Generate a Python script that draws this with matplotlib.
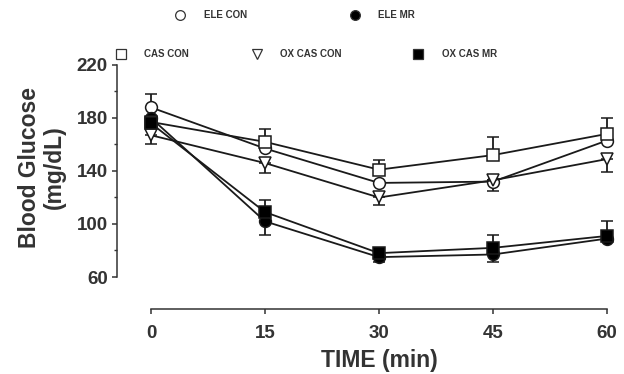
import matplotlib.pyplot as plt
from matplotlib.lines import Line2D
import numpy as np

plt.rcParams['font.family'] = ['Liberation Sans', 'DejaVu Sans']

time = np.array([0, 15, 30, 45, 60])

ele_con = [188, 157, 131, 132, 163]
ele_con_lo = [0, 0, 0, 7, 0]
ele_con_hi = [10, 0, 0, 0, 0]

ele_mr = [180, 102, 75, 77, 89]
ele_mr_lo = [0, 10, 4, 6, 0]
ele_mr_hi = [0, 0, 0, 0, 0]

cas_con = [177, 162, 141, 152, 168]
cas_con_lo = [0, 0, 0, 0, 0]
cas_con_hi = [0, 10, 7, 14, 12]

ox_cas_con = [167, 146, 120, 133, 149]
ox_cas_con_lo = [7, 7.5, 5.5, 0, 10]
ox_cas_con_hi = [0, 0, 0, 0, 0]

ox_cas_mr = [176, 109, 78, 82, 91]
ox_cas_mr_lo = [0, 0, 0, 0, 0]
ox_cas_mr_hi = [0, 9, 4, 10, 11]

series = [
    ('ELE CON', ele_con, ele_con_lo, ele_con_hi, 'o', 'white'),
    ('ELE MR', ele_mr, ele_mr_lo, ele_mr_hi, 'o', 'black'),
    ('CAS CON', cas_con, cas_con_lo, cas_con_hi, 's', 'white'),
    ('OX CAS CON', ox_cas_con, ox_cas_con_lo, ox_cas_con_hi, 'v', 'white'),
    ('OX CAS MR', ox_cas_mr, ox_cas_mr_lo, ox_cas_mr_hi, 's', 'black'),
]

fig = plt.figure(figsize=(6.24, 3.74), dpi=100)
W, H = 624, 374
ax = fig.add_axes([151 / W, 1 - 277 / H, 456 / W, 212 / H])

for name, y, lo, hi, mk, fc in series:
    ax.errorbar(time, y, yerr=[lo, hi], color='#1a1a1a', lw=1.3,
                marker=mk, ms=8.5, mfc=fc, mec='#1a1a1a', mew=1.1,
                capsize=4.5, capthick=1.3, elinewidth=1.3, clip_on=False)

ax.set_xlim(0, 60)
ax.set_ylim(60, 220)
ax.set_xticks(time)
ax.set_yticks([60, 100, 140, 180, 220])
ax.set_yticks([80, 120, 160, 200], minor=True)
ax.spines['top'].set_visible(False)
ax.spines['right'].set_visible(False)
ax.spines['left'].set_position(('outward', 24.5))
ax.spines['bottom'].set_position(('outward', 23))
for s in ['left', 'bottom']:
    ax.spines[s].set_linewidth(1.1)
    ax.spines[s].set_color('#333333')
ax.tick_params(axis='both', which='major', length=3.5, width=1.1, color='#333333',
               labelsize=13.5, labelcolor='#333333')
ax.tick_params(axis='y', which='minor', length=2, width=1, color='#333333')
ax.tick_params(axis='x', pad=8)
ax.tick_params(axis='y', pad=3)
for lab in ax.get_xticklabels() + ax.get_yticklabels():
    lab.set_fontweight('bold')

fig.text(151 / W + 228 / W, 1 - 361 / H, 'TIME (min)', ha='center', va='center',
         fontsize=16.5, fontweight='bold', color='#333333')
fig.text(42 / W, 1 - 167 / H, 'Blood Glucose\n(mg/dL)', ha='center', va='center',
         rotation=90, fontsize=16.5, fontweight='bold', color='#333333',
         linespacing=1.1)

# legend drawn in figure coordinates
leg = [
    (180, 15, 'o', 'white', 204, 'ELE CON'),
    (355, 15, 'o', 'black', 378, 'ELE MR'),
    (121, 54, 's', 'white', 144, 'CAS CON'),
    (257, 54, 'v', 'white', 280, 'OX CAS CON'),
    (418, 54, 's', 'black', 442, 'OX CAS MR'),
]
for mx, my, mk, fc, tx, txt in leg:
    fig.add_artist(Line2D([mx / W], [1 - my / H], marker=mk, ms=7, mfc=fc,
                          mec='#333333', mew=0.9, ls='none',
                          transform=fig.transFigure))
    fig.text(tx / W, 1 - my / H, txt, ha='left', va='center', fontsize=7,
             fontweight='bold', color='#333333')

fig.savefig('out.png', dpi=100)
